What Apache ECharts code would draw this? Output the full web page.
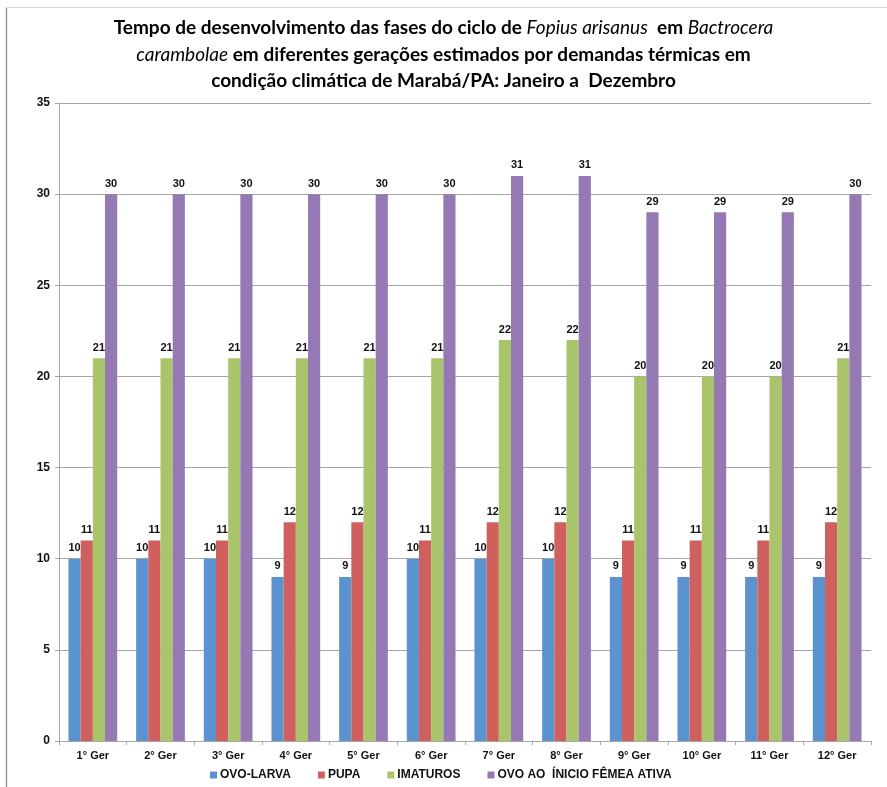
<!DOCTYPE html>
<html>
<head>
<meta charset="utf-8">
<script src="https://cdn.jsdelivr.net/npm/echarts@6/dist/echarts.min.js"></script>
<style>
  html, body { margin: 0; padding: 0; background: #fff; }
  #chart { width: 887px; height: 787px; }
</style>
</head>
<body>
<div id="chart"></div>
<script>
// Generations (categories) and development times (days) per phase
const geracoes = ['1° Ger', '2° Ger', '3° Ger', '4° Ger', '5° Ger', '6° Ger', '7° Ger', '8° Ger', '9° Ger', '10° Ger', '11° Ger', '12° Ger'];
const ovoLarva = [10, 10, 10, 9, 9, 10, 10, 10, 9, 9, 9, 9];
const pupa = [11, 11, 11, 12, 12, 11, 12, 12, 11, 11, 11, 12];
const imaturos = [21, 21, 21, 21, 21, 21, 22, 22, 20, 20, 20, 21];
const ovoFemea = [30, 30, 30, 30, 30, 30, 31, 31, 29, 29, 29, 30];
const seriesNames = ['OVO-LARVA', 'PUPA', 'IMATUROS', 'OVO AO  ÍNICIO FÊMEA ATIVA'];
const seriesColors = ['#5B93D1', '#D0605D', '#A9C46A', '#9479B4'];

const chart = echarts.init(document.getElementById('chart'), null, { renderer: 'canvas' });

const baseFont = 'Liberation Sans, Arial, sans-serif';
const titleFont = 'Lato, "Open Sans", sans-serif';

function barSeries(name, data, color) {
  return {
    name: name,
    type: 'bar',
    data: data,
    barGap: '0%',
    barCategoryGap: '28%',
    itemStyle: { color: color },
    label: {
      show: true,
      position: 'top',
      distance: 5,
      color: '#111',
      fontFamily: baseFont,
      fontWeight: 'bold',
      fontSize: 11
    }
  };
}

const option = {
  animation: false,
  backgroundColor: '#fff',
  title: {
    left: 'center',
    top: 10,
    text: '{b|Tempo de desenvolvimento das fases do ciclo de }{i|Fopius arisanus}{b|  em }{i|Bactrocera}\n' +
          '{i|carambolae}{b| em diferentes gerações estimados por demandas térmicas em}\n' +
          '{b|condição climática de Marabá/PA: Janeiro a  Dezembro}',
    textStyle: {
      color: '#000',
      lineHeight: 26.5,
      rich: {
        b: { fontFamily: titleFont, fontWeight: 'bold', fontSize: 19, lineHeight: 26.5, color: '#000' },
        i: { fontFamily: titleFont, fontStyle: 'italic', fontWeight: 'normal', fontSize: 19, lineHeight: 26.5, color: '#000' }
      }
    }
  },
  legend: {
    left: 205,
    top: 764,
    itemWidth: 7,
    itemHeight: 7,
    itemGap: 27,
    icon: 'rect',
    textStyle: { fontFamily: baseFont, fontWeight: 'bold', fontSize: 12, color: '#111', padding: [0, 0, 0, -2] },
    data: seriesNames
  },
  grid: { left: 59, right: 16, top: 103, bottom: 46, containLabel: false },
  xAxis: {
    type: 'category',
    data: geracoes,
    axisLine: { show: true, lineStyle: { color: '#A6A6A6', width: 1 } },
    axisTick: { show: true, length: 4, alignWithLabel: false, lineStyle: { color: '#A6A6A6' } },
    axisLabel: { fontFamily: baseFont, fontWeight: 'bold', fontSize: 11, color: '#111', margin: 9 }
  },
  yAxis: {
    type: 'value',
    min: 0,
    max: 35,
    interval: 5,
    axisLine: { show: true, lineStyle: { color: '#A6A6A6', width: 1 } },
    axisTick: { show: true, length: 4, lineStyle: { color: '#A6A6A6' } },
    splitLine: { show: true, lineStyle: { color: '#A6A6A6', width: 1 } },
    axisLabel: { fontFamily: baseFont, fontWeight: 'bold', fontSize: 12, color: '#111', margin: 9 }
  },
  graphic: [
    { type: 'line', silent: true, shape: { x1: 6.5, y1: 7, x2: 6.5, y2: 787 }, style: { stroke: '#9A9A9A', lineWidth: 1.5 } },
    { type: 'line', silent: true, shape: { x1: 6, y1: 7.5, x2: 887, y2: 7.5 }, style: { stroke: '#D9D9D9', lineWidth: 1 } }
  ],
  series: [
    barSeries(seriesNames[0], ovoLarva, seriesColors[0]),
    barSeries(seriesNames[1], pupa, seriesColors[1]),
    barSeries(seriesNames[2], imaturos, seriesColors[2]),
    barSeries(seriesNames[3], ovoFemea, seriesColors[3])
  ]
};

chart.setOption(option);
</script>
</body>
</html>
